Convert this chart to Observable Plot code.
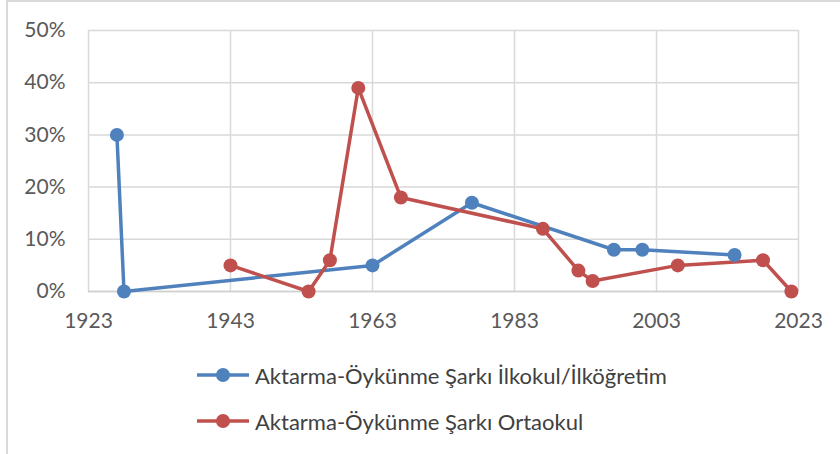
<!DOCTYPE html>
<html>
<head>
<meta charset="utf-8">
<script src="https://cdn.jsdelivr.net/npm/d3@7"></script>
<script src="https://cdn.jsdelivr.net/npm/@observablehq/plot@0.6"></script>
<style>
  html, body { margin: 0; padding: 0; background: #fff; }
  #wrap { position: relative; width: 840px; height: 454px; overflow: hidden; font-family: Lato, "Open Sans", sans-serif; }
  #frame { position: absolute; left: 6px; top: 0px; width: 900px; height: 500px; border: 2px solid #d9d9d9; box-sizing: border-box; }
  #chart { position: absolute; left: 0; top: 0; }
  .leg { position: absolute; left: 196px; display: flex; align-items: center; font-size: 22px; color: #404040; white-space: nowrap; }
  .leg svg { margin-right: 5px; }
</style>
</head>
<body>
<div id="wrap">
  <div id="frame"></div>
  <div id="chart"></div>
  <div id="legend"></div>
</div>
<script>
const seriesNames = ["Aktarma-Öykünme Şarkı İlkokul/İlköğretim", "Aktarma-Öykünme Şarkı Ortaokul"];
const seriesColors = ["#4f81bd", "#c0504d"];

const ilkokulYears  = [1927, 1928, 1963, 1977, 1997, 2001, 2014];
const ilkokulValues = [0.30, 0.00, 0.05, 0.17, 0.08, 0.08, 0.07];

const ortaokulYears  = [1943, 1954, 1957, 1961, 1967, 1987, 1992, 1994, 2006, 2018, 2022];
const ortaokulValues = [0.05, 0.00, 0.06, 0.39, 0.18, 0.12, 0.04, 0.02, 0.05, 0.06, 0.00];

const xTicks = [1923, 1943, 1963, 1983, 2003, 2023];
const yTicks = [0, 0.1, 0.2, 0.3, 0.4, 0.5];

const data = [
  ...ilkokulYears.map((y, i) => ({year: y, value: ilkokulValues[i], series: seriesNames[0]})),
  ...ortaokulYears.map((y, i) => ({year: y, value: ortaokulValues[i], series: seriesNames[1]}))
];

const chart = Plot.plot({
  width: 840,
  height: 340,
  marginLeft: 88,
  marginRight: 42,
  marginTop: 30,
  marginBottom: 49,
  style: { fontFamily: "Lato, 'Open Sans', sans-serif", fontSize: "21px", color: "#595959", background: "transparent" },
  x: { domain: [1923, 2023], label: null },
  y: { domain: [0, 0.5], label: null },
  color: { domain: seriesNames, range: seriesColors },
  marks: [
    Plot.gridX(xTicks, { stroke: "#d9d9d9", strokeOpacity: 1, strokeWidth: 1.5 }),
    Plot.gridY(yTicks, { stroke: "#d9d9d9", strokeOpacity: 1, strokeWidth: 1.5 }),
    Plot.ruleY([0], { stroke: "#d0d0d0", strokeWidth: 1.5 }),
    Plot.axisX(xTicks, { label: null, tickSize: 0, tickPadding: 22, tickFormat: d => String(d), fontSize: 21, fill: "#595959" }),
    Plot.axisY(yTicks, { label: null, tickSize: 0, tickPadding: 23, tickFormat: d3.format(".0%"), fontSize: 21, fill: "#595959" }),
    Plot.line(data, { x: "year", y: "value", z: "series", stroke: "series", strokeWidth: 3.5, strokeLinejoin: "round" }),
    Plot.dot(data, { x: "year", y: "value", fill: "series", r: 7 })
  ]
});
document.getElementById("chart").appendChild(chart);

const legend = document.getElementById("legend");
const legendTops = [375, 421];
seriesNames.forEach((name, i) => {
  const item = document.createElement("div");
  item.className = "leg";
  item.style.top = (legendTops[i] - 14) + "px";
  item.style.height = "28px";
  item.innerHTML = `<svg width="54" height="20"><line x1="1" y1="10" x2="53" y2="10" stroke="${seriesColors[i]}" stroke-width="3.5"/><circle cx="27" cy="10" r="7" fill="${seriesColors[i]}"/></svg><span>${name}</span>`;
  legend.appendChild(item);
});
</script>
</body>
</html>
